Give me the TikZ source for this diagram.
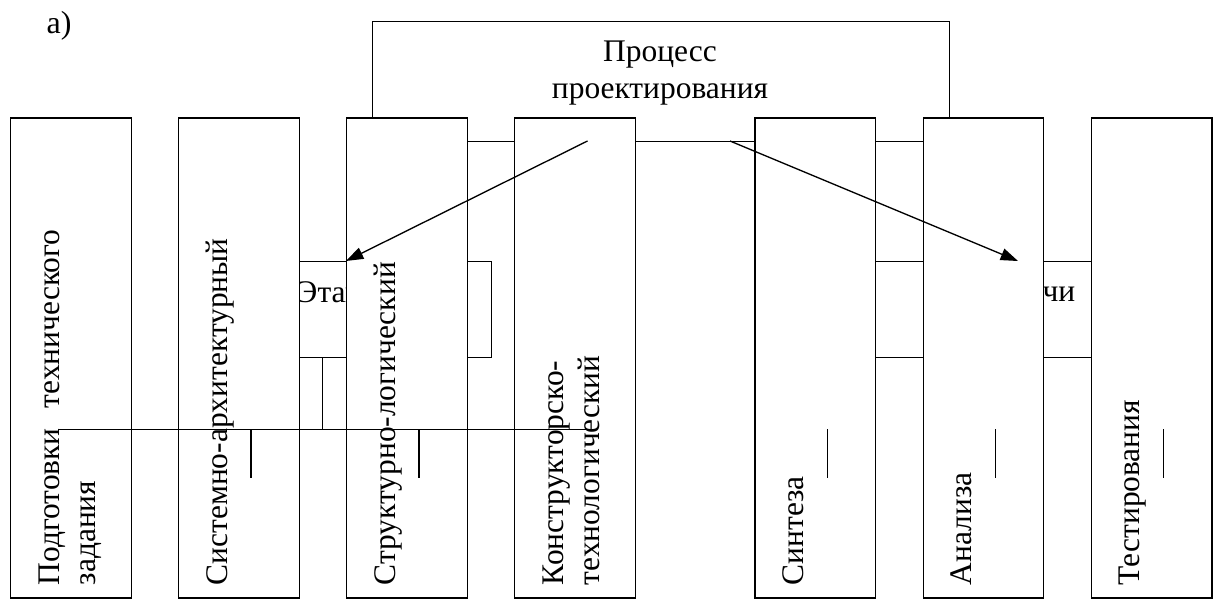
\documentclass[tikz,border=0pt]{standalone}
\usepackage{fontspec}
\setmainfont{Liberation Serif}
\usetikzlibrary{arrows.meta}
\begin{document}
\begin{tikzpicture}[x=0.75pt,y=-0.75pt, line width=1.1pt,
  box/.style={draw, fill=white, inner sep=0pt, anchor=north west},
  colbox/.style={box, minimum width=90.375pt, minimum height=359.8pt},
  txt/.style={inner sep=0pt, font=\fontsize{23.6}{28}\selectfont},
  vtxt/.style={txt, rotate=90, anchor=base west},
  arr/.style={-{Triangle[length=13pt,width=9pt]}, line width=1pt}]
\useasboundingbox (0,0) rectangle (1213,599);

\node[inner sep=0pt, anchor=base west, font=\fontsize{24}{28}\selectfont] (lbl) at (46,34) {а)};

% top box
\node[box, minimum width=432.5pt, minimum height=90pt] (top) at (372,21) {};
\node[txt, anchor=base] (tp1) at (660,61.7) {Процесс};
\node[txt, anchor=base] (tp2) at (660,98.3) {проектирования};

% middle boxes
\node[box, minimum width=229.2pt, minimum height=72pt] (eta) at (185,261) {};
\node[txt, anchor=base west] (etat) at (296,302) {Этапы};
\node[box, minimum width=217.95pt, minimum height=72pt] (zad) at (800,261) {};
\node[txt, anchor=base east] (zadt) at (1076,301) {Задачи};

% columns
\foreach \n/\xx in {1/10,2/178,3/346,4/514,5/754.4,6/922.5,7/1090.6}
  \node[colbox] (c\n) at (\xx,117.3) {};

\node[vtxt] (l1a) at (59,586) {Подготовки\hspace{15pt}технического};
\node[vtxt] (l1b) at (95.5,586) {задания};
\node[vtxt] (l2) at (227,586) {Системно-архитектурный};
\node[vtxt] (l3) at (395,586) {Структурно-логический};
\node[vtxt] (l4a) at (563,586) {Конструкторско-};
\node[vtxt] (l4b) at (599.5,586) {технологический};
\node[vtxt] (l5) at (803.4,586) {Синтеза};
\node[vtxt] (l6) at (971.5,586) {Анализа};
\node[vtxt] (l7) at (1139.6,586) {Тестирования};

% ticks
\foreach \n in {2,3,5,6,7}
  \draw ([shift={(73,311.7)}]c\n.north west) -- ++(0,49);

% tree lines
\coordinate (hl) at (58,429.5);
\coordinate (hr) at (587,429.5);
\coordinate (hj) at (322.7,429.5);
\draw (hl) -- (hr);
\draw (hj |- eta.south) -- (hj);

% arrows
\coordinate (s1) at (587.5,141);
\coordinate (s2) at (730,141);
\coordinate (e2) at (1018,261);
\draw[arr] (s1) -- (c3.west |- eta.north);
\draw[arr] (s2) -- (e2);
\end{tikzpicture}
\end{document}
